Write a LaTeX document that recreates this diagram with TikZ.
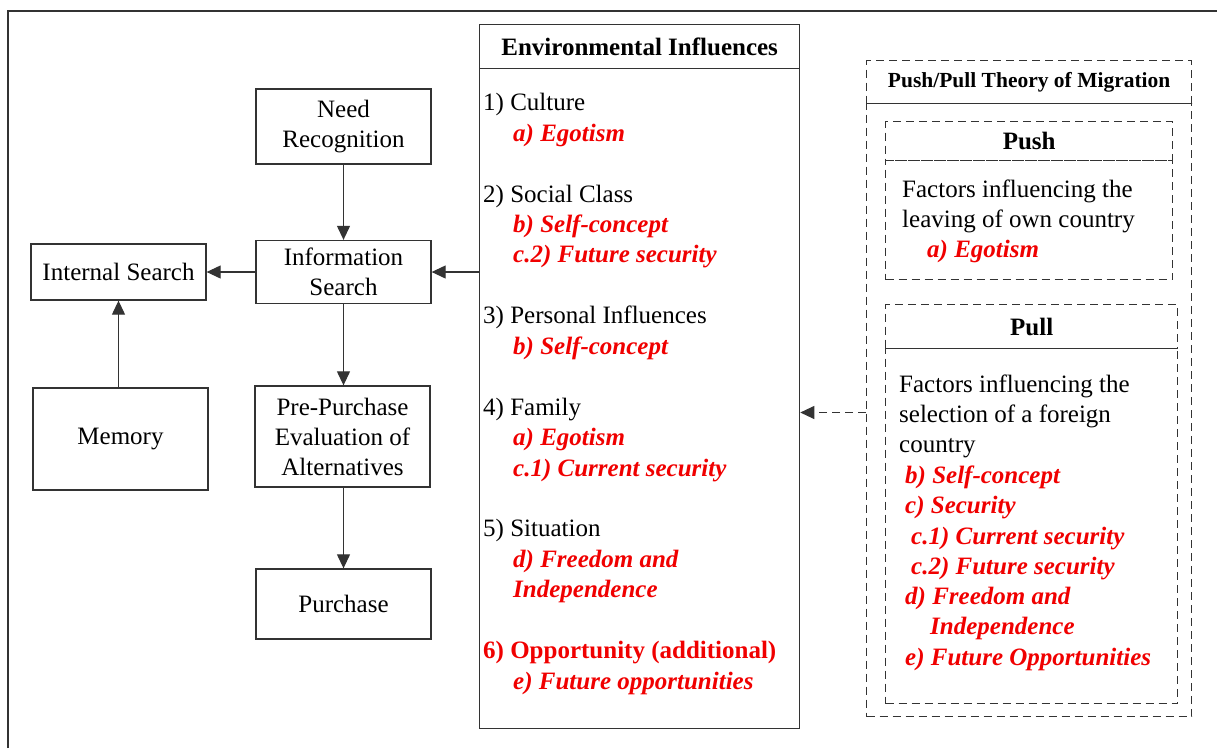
\documentclass[tikz,border=0pt]{standalone}
\usepackage{fontspec}
\setmainfont{Liberation Serif}
\usetikzlibrary{arrows.meta}
\definecolor{framegray}{HTML}{333333}
\definecolor{accent}{HTML}{F00000}
\tikzset{
  base font/.style={font=\fontsize{25}{30}\selectfont},
  stage/.style={draw=framegray, line width=1.3pt, minimum width=175pt,
    align=center, inner sep=0pt, base font},
  panel/.style={draw=framegray, line width=1.3pt, anchor=north west,
    inner sep=0pt, align=center},
  dpanel/.style={panel, dash pattern=on 8pt off 5pt},
  flow/.style={-{Triangle[length=14pt,width=13pt]}, line width=1.1pt, draw=framegray},
  txt/.style={anchor=base west, inner sep=0pt, base font},
  hl/.style={anchor=base west, inner sep=0pt, text=accent,
    font=\fontsize{25}{30}\selectfont\bfseries\itshape},
  hlup/.style={anchor=base west, inner sep=0pt, text=accent,
    font=\fontsize{25}{30}\selectfont\bfseries}
}
\begin{document}
\begin{tikzpicture}[x=1pt, y=-1pt]
\useasboundingbox (0,0) rectangle (1217,748);

% page frame (open to the right and bottom)
\draw[line width=1.6pt, draw=framegray] (8,748) -- (8,11) -- (1217,11);

% decision process stages
\node[stage, minimum height=75pt]  (need) at (343.5,126.5) {Need\\Recognition};
\node[stage, minimum height=63pt]  (info) at (343.5,272)   {Information\\Search};
\node[stage, minimum height=56pt]  (ints) at (118.5,272)   {Internal Search};
\node[stage, minimum height=102pt] (mem)  at (120.5,439)   {Memory};
\node[stage, minimum height=101pt] (pre)  at (342.5,436.5) {Pre-Purchase\\Evaluation of\\Alternatives};
\node[stage, minimum height=70pt]  (pur)  at (343.5,604)   {Purchase};

% environmental influences panel
\node[panel, minimum width=320pt, minimum height=43.5pt, font=\fontsize{25}{30}\selectfont\bfseries]
  (envh) at (479,24) {Environmental Influences};
\node[panel, minimum width=320pt, minimum height=660.5pt] (env) at (479,67.5) {};

\node[txt] (e1)  at (483,110) {1) Culture};
\node[hl]  (e1a) at (513,141) {a) Egotism};
\node[txt] (e2)  at (483,202) {2) Social Class};
\node[hl]  (e2b) at (513,232) {b) Self-concept};
\node[hl]  (e2c) at (513,262) {c.2) Future security};
\node[txt] (e3)  at (483,323) {3) Personal Influences};
\node[hl]  (e3b) at (513,354) {b) Self-concept};
\node[txt] (e4)  at (483,415) {4) Family};
\node[hl]  (e4a) at (513,445) {a) Egotism};
\node[hl]  (e4c) at (513,476) {c.1) Current security};
\node[txt] (e5)  at (483,536) {5) Situation};
\node[hl]  (e5d) at (513,567) {d) Freedom and};
\node[hl]  (e5i) at (513,597) {Independence};
\node[hlup] (e6) at (483,658) {6) Opportunity (additional)};
\node[hl]  (e6e) at (513,689) {e) Future opportunities};

% push/pull theory panel
\node[dpanel, minimum width=325pt, minimum height=43pt, font=\fontsize{21.5}{26}\selectfont\bfseries]
  (pph) at (866,60) {Push/Pull Theory of Migration};
\node[dpanel, minimum width=325pt, minimum height=613pt] (pp) at (866,103) {};

\node[dpanel, minimum width=287pt, minimum height=39pt, font=\fontsize{25}{30}\selectfont\bfseries]
  (pushh) at (885,121) {Push};
\node[dpanel, minimum width=287pt, minimum height=119pt] (push) at (885,160) {};
\node[txt] (p1) at (902,197) {Factors influencing the};
\node[txt] (p2) at (902,227) {leaving of own country};
\node[hl]  (p3) at (927,257) {a) Egotism};

\node[dpanel, minimum width=292pt, minimum height=44pt, font=\fontsize{25}{30}\selectfont\bfseries]
  (pullh) at (885,304) {Pull};
\node[dpanel, minimum width=292pt, minimum height=355pt] (pull) at (885,348) {};
\node[txt] (q1) at (899,392) {Factors influencing the};
\node[txt] (q2) at (899,422) {selection of a foreign};
\node[txt] (q3) at (899,452) {country};
\node[hl]  (q4) at (905,483) {b) Self-concept};
\node[hl]  (q5) at (905,513) {c) Security};
\node[hl]  (q6) at (911,544) {c.1) Current security};
\node[hl]  (q7) at (911,574) {c.2) Future security};
\node[hl]  (q8) at (905,604) {d) Freedom and};
\node[hl]  (q9) at (930,634) {Independence};
\node[hl]  (q10) at (905,665) {e) Future Opportunities};

% connectors
\draw[flow] (need) -- (info);
\draw[flow] (info) -- (ints);
\draw[flow] (ints.south |- mem.north) -- (ints.south);
\draw[flow] (info.south) -- (info.south |- pre.north);
\draw[flow] (pre.south -| pur.north) -- (pur.north);
\draw[flow] (env.west |- info.east) -- (info.east);
\coordinate (tap) at (866,412.5);
\draw[flow, dash pattern=on 8pt off 5pt] (tap) -- (tap -| env.east);
\end{tikzpicture}
\end{document}
